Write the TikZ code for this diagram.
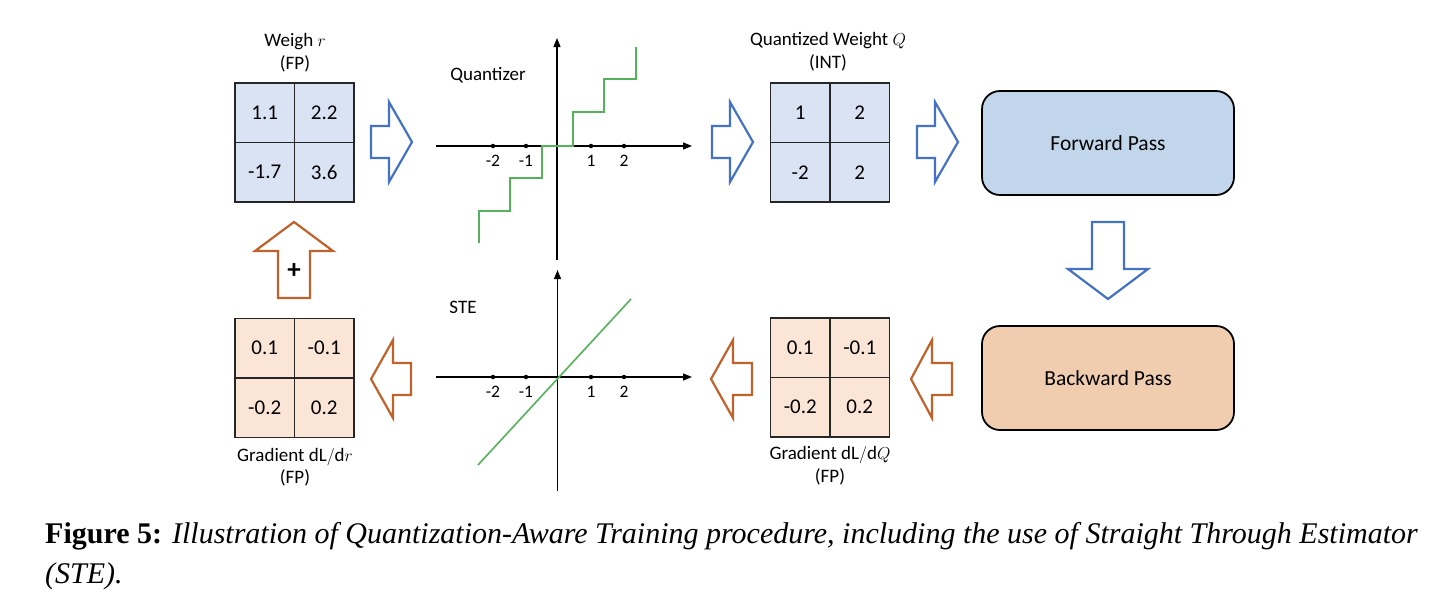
\documentclass[tikz,border=0pt]{standalone}
\usepackage{fontspec}
\setmainfont{Carlito}
\newfontfamily\capfont{Liberation Serif}
\usetikzlibrary{arrows.meta}
\definecolor{mblue}{HTML}{DAE3F3}
\definecolor{fblue}{HTML}{C2D6EB}
\definecolor{morange}{HTML}{FBE5D6}
\definecolor{forange}{HTML}{F1CDB0}
\definecolor{ablue}{HTML}{4472C4}
\definecolor{aorange}{HTML}{C0622B}
\definecolor{qgreen}{HTML}{55B25A}
\tikzset{
 cell/.style={draw=black!85, line width=1.6pt, minimum size=59.5pt, inner sep=0pt, font=\fontsize{21}{25}\selectfont},
 lbl/.style={font=\fontsize{19}{22}\selectfont, inner sep=0pt},
 tick/.style={font=\fontsize{17.5}{20}\selectfont, inner sep=0pt},
 blkb/.style={draw=ablue, line width=2.2pt, fill=white, line join=miter},
 blko/.style={draw=aorange, line width=2.2pt, fill=white, line join=miter},
 axis/.style={line width=1.3pt, -{Triangle[length=9pt,width=7pt]}},
 curve/.style={qgreen, line width=1.6pt},
 pass/.style={draw=black, line width=1.8pt, rounded corners=18pt, minimum width=252pt, minimum height=104pt, font=\fontsize{21.5}{25}\selectfont},
 dot/.style={circle, fill=black, inner sep=0pt, minimum size=4.5pt}
}
\newcommand\wmat[8]{%
 \node[cell,fill=#4] (#1-11) at ({#2-29.75},{#3-29.75}) {#5};
 \node[cell,fill=#4] (#1-12) at ({#2+29.75},{#3-29.75}) {#6};
 \node[cell,fill=#4] (#1-21) at ({#2-29.75},{#3+29.75}) {#7};
 \node[cell,fill=#4] (#1-22) at ({#2+29.75},{#3+29.75}) {#8};}
\begin{document}
\begin{tikzpicture}[x=1pt,y=-1pt]
\useasboundingbox[fill=white] (0,0) rectangle (1442,606);
% matrices
\wmat{W}{294.5}{142.5}{mblue}{1.1}{2.2}{-1.7}{3.6}
\wmat{Q}{830}{142.5}{mblue}{1}{2}{-2}{2}
\wmat{G}{294.5}{378}{morange}{0.1}{-0.1}{-0.2}{0.2}
\wmat{H}{830}{377.5}{morange}{0.1}{-0.1}{-0.2}{0.2}
% labels
\node[lbl] (wl1) at (295,42) {Weigh $r$};
\node[lbl] (wl2) at (295,64) {(FP)};
\node[lbl] (ql1) at (828,41) {Quantized Weight $Q$};
\node[lbl] (ql2) at (828,63) {(INT)};
\node[lbl] (gl1) at (295,457) {Gradient $\mathrm{dL}/\mathrm{d}r$};
\node[lbl] (gl2) at (295,478) {(FP)};
\node[lbl] (hl1) at (830,455) {Gradient $\mathrm{dL}/\mathrm{d}Q$};
\node[lbl] (hl2) at (830,477) {(FP)};
% pass boxes
\node[pass, fill=fblue] (fwd) at (1108,143) {Forward Pass};
\node[pass, fill=forange] (bwd) at (1108,378) {Backward Pass};
% blue block arrows
\draw[blkb] (371,126)--(389,126)--(389,102)--(412,142)--(389,182)--(389,158)--(371,158)--cycle;
\draw[blkb] (712,126)--(730,126)--(730,102)--(753,142)--(730,182)--(730,158)--(712,158)--cycle;
\draw[blkb] (917,126)--(935,126)--(935,102)--(958,142)--(935,182)--(935,158)--(917,158)--cycle;
\draw[blkb] (1092,222)--(1124,222)--(1124,269)--(1148,269)--(1108,299)--(1068,269)--(1092,269)--cycle;
% orange block arrows
\draw[blko] (278,298)--(278,251)--(255,251)--(294,222)--(333,251)--(310,251)--(310,298)--cycle;
\node[font=\fontsize{27}{28}\selectfont\bfseries, inner sep=0pt] (plus) at (294,271) {+};
\draw[blko] (371,379)--(393,340)--(393,363)--(411,363)--(411,395)--(393,395)--(393,418)--cycle;
\draw[blko] (711,379)--(733,340)--(733,363)--(752,363)--(752,395)--(733,395)--(733,418)--cycle;
\draw[blko] (911,379)--(932,340)--(932,363)--(952,363)--(952,395)--(932,395)--(932,418)--cycle;
% quantizer plot
\coordinate (qx0) at (436,146); \coordinate (qx1) at (692,146);
\coordinate (qy0) at (557,260); \coordinate (qy1) at (557,38);
\draw[axis] (qx0) -- (qx1);
\draw[axis] (qy0) -- (qy1);
\node[lbl] (qname) at (488,75) {Quantizer};
\foreach \xx/\tt in {493/-2,526/-1,591/1,624/2}{
 \node[dot] at (\xx,146) {};
 \node[tick] at (\xx,161) {\tt};
}
\draw[curve] (479,243)--(479,211)--(510,211)--(510,178)--(542,178)--(542,146)--(573,146)--(573,112)--(604,112)--(604,79)--(636,79)--(636,47);
% STE plot
\coordinate (sx0) at (436,377); \coordinate (sx1) at (692,377);
\coordinate (sy0) at (557.5,491); \coordinate (sy1) at (557.5,270);
\draw[axis] (sx0) -- (sx1);
\draw[axis] (sy0) -- (sy1);
\node[lbl] (sname) at (463,307) {STE};
\foreach \xx/\tt in {493/-2,526/-1,591/1,624/2}{
 \node[dot] at (\xx,377) {};
 \node[tick] at (\xx,392) {\tt};
}
\draw[curve] (478,465) -- (631,299);
% caption
\node[anchor=base west, inner sep=0pt] (cap1) at (45,543) {\capfont\fontsize{30}{38}\selectfont\textbf{Figure 5:} \textit{Illustration of Quantization-Aware Training procedure, including the use of Straight Through Estimator}};
\node[anchor=base west, inner sep=0pt] (cap2) at (45,583) {\capfont\fontsize{30}{38}\selectfont\textit{(STE).}};
\end{tikzpicture}
\end{document}
